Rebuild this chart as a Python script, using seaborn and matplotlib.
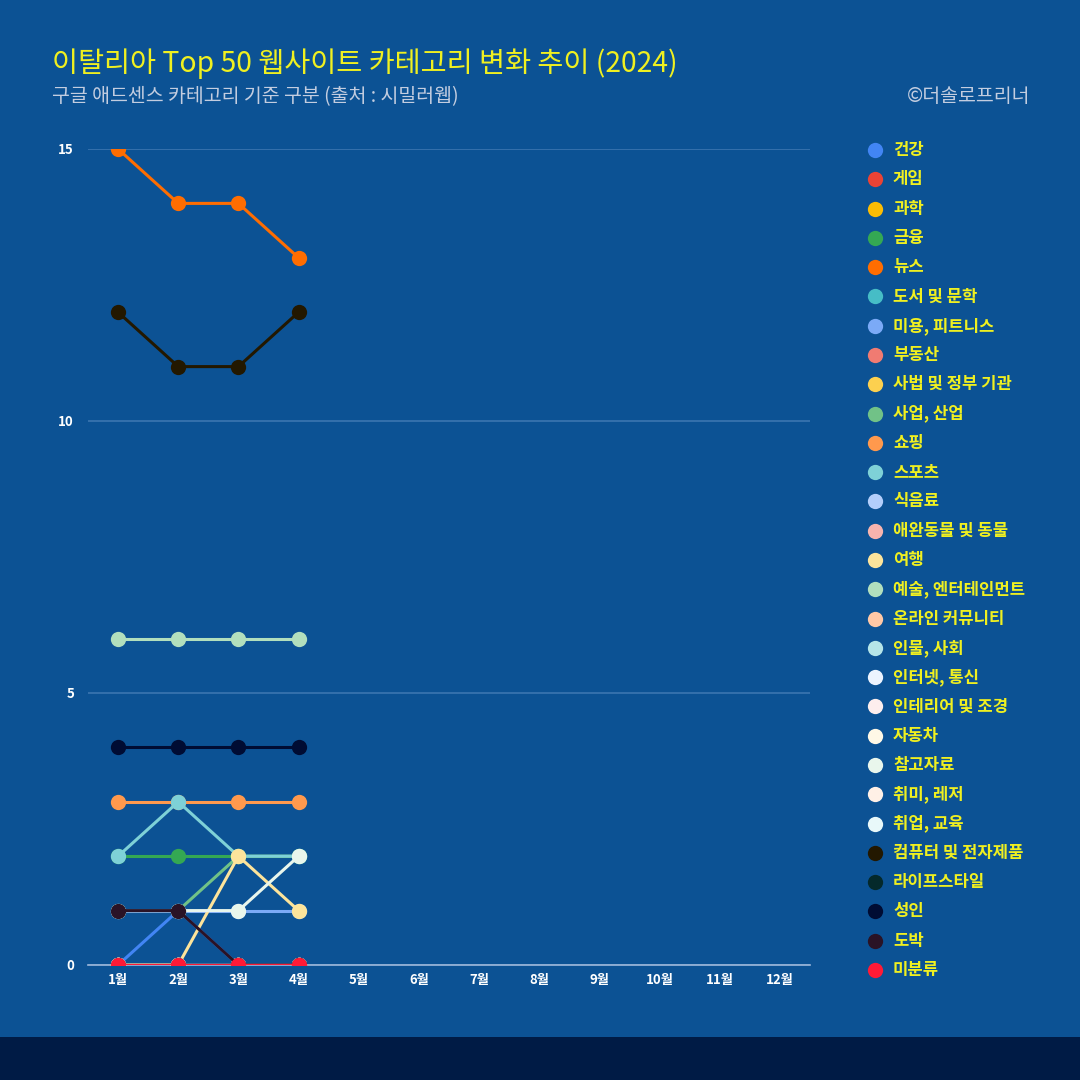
import numpy as np
import pandas as pd
import matplotlib
matplotlib.use("Agg")
import matplotlib.pyplot as plt
from matplotlib.lines import Line2D
from matplotlib.patches import Rectangle
import seaborn as sns

# ---------------- data ----------------
months = [1, 2, 3, 4]
month_labels = ["1월", "2월", "3월", "4월", "5월", "6월", "7월", "8월", "9월", "10월", "11월", "12월"]

categories = ["건강", "게임", "과학", "금융", "뉴스", "도서 및 문학", "미용, 피트니스", "부동산",
              "사법 및 정부 기관", "사업, 산업", "쇼핑", "스포츠", "식음료", "애완동물 및 동물",
              "여행", "예술, 엔터테인먼트", "온라인 커뮤니티", "인물, 사회", "인터넷, 통신",
              "인테리어 및 조경", "자동차", "참고자료", "취미, 레저", "취업, 교육",
              "컴퓨터 및 전자제품", "라이프스타일", "성인", "도박", "미분류"]

colors = ["#4285f4", "#ea4335", "#fbbc04", "#34a853", "#ff6d01", "#46bdc6", "#7baaf7", "#f07b72",
          "#fcd04f", "#71c287", "#ff994d", "#7ed1d7", "#b3cefb", "#f7b4ae",
          "#fde49b", "#b2dfbd", "#ffc8a6", "#b5e5e8", "#ecf3fe",
          "#fdeeed", "#fff8e6", "#e9f6ec", "#fff0e6", "#e8f8f9",
          "#231800", "#04292b", "#000c33", "#2a1326", "#ff1a36"]

values = {
    "건강": [0, 1, 0, 0],
    "금융": [2, 2, 2, 2],
    "뉴스": [15, 14, 14, 13],
    "미용, 피트니스": [1, 1, 1, 1],
    "사업, 산업": [1, 1, 2, 2],
    "쇼핑": [3, 3, 3, 3],
    "스포츠": [2, 3, 2, 2],
    "여행": [0, 0, 2, 1],
    "예술, 엔터테인먼트": [6, 6, 6, 6],
    "참고자료": [1, 1, 1, 2],
    "컴퓨터 및 전자제품": [12, 11, 11, 12],
    "성인": [4, 4, 4, 4],
    "도박": [1, 1, 0, 0],
    "미분류": [0, 0, 0, 0],
}

rows = []
for c in categories:
    v = values.get(c, [0, 0, 0, 0])
    for m, y in zip(months, v):
        rows.append({"month": m, "count": y, "category": c})
df = pd.DataFrame(rows)

# ---------------- style ----------------
BG = "#0c5294"
sns.set_theme(style="white")
plt.rcParams["font.family"] = ["Noto Sans CJK KR", "DejaVu Sans"]

fig = plt.figure(figsize=(10.8, 10.8), dpi=100, facecolor=BG)
fig.patches.append(Rectangle((0, 0), 1, 43 / 1080, transform=fig.transFigure,
                             facecolor="#001b45", edgecolor="none", zorder=0))

ax = fig.add_axes([88 / 1080, 1 - 965 / 1080, (810 - 88) / 1080, (965 - 149) / 1080])
ax.set_facecolor(BG)

pal = dict(zip(categories, colors))
sns.lineplot(data=df, x="month", y="count", hue="category", hue_order=categories,
             palette=pal, marker="o", markersize=11, markeredgewidth=0,
             linewidth=2.2, sort=False, legend=False, ax=ax, zorder=3)

ax.set_xlim(0.5, 12.5)
ax.set_ylim(0, 15)
ax.set_xticks(range(1, 13))
ax.set_xticklabels(month_labels)
ax.set_yticks([0, 5, 10, 15])
ax.set_yticklabels(["0", "5", "10", "15"])
ax.set_xlabel("")
ax.set_ylabel("")
for t in ax.get_xticklabels() + ax.get_yticklabels():
    t.set_color("white")
    t.set_fontweight("bold")
    t.set_fontsize(9.5)
ax.tick_params(axis="x", length=0, pad=6)
ax.tick_params(axis="y", length=0, pad=10)
ax.grid(axis="y", color="#3b75b0", linewidth=1.2, zorder=0)
ax.grid(axis="x", visible=False)
for s in ["top", "right", "left"]:
    ax.spines[s].set_visible(False)
ax.spines["bottom"].set_color("#9fb9dc")
ax.spines["bottom"].set_linewidth(1.2)
ax.spines["bottom"].set_zorder(2)

# ---------------- titles ----------------
fig.text(52 / 1080, 1 - 64 / 1080, "이탈리아 Top 50 웹사이트 카테고리 변화 추이 (2024)",
         color="#f0f020", fontsize=20.4, fontweight="medium", va="center", ha="left")
fig.text(52 / 1080, 1 - 97 / 1080, "구글 애드센스 카테고리 기준 구분 (출처 : 시밀러웹)",
         color="#c3cde0", fontsize=14, va="center", ha="left")
fig.text(1030 / 1080, 1 - 97 / 1080, "©더솔로프리너",
         color="#c3cde0", fontsize=14, va="center", ha="right")

# ---------------- legend ----------------
y0, y1 = 150, 970
step = (y1 - y0) / (len(categories) - 1)
for i, c in enumerate(categories):
    yy = 1 - (y0 + i * step) / 1080
    fig.add_artist(Line2D([875 / 1080], [yy], marker="o", markersize=11, markeredgewidth=0,
                          color=pal[c], linestyle="none", transform=fig.transFigure))
    fig.text(893 / 1080, yy, c, color="#f0f020", fontsize=12, fontweight="bold",
             va="center", ha="left")

fig.savefig("out.png", dpi=100, facecolor=BG)
